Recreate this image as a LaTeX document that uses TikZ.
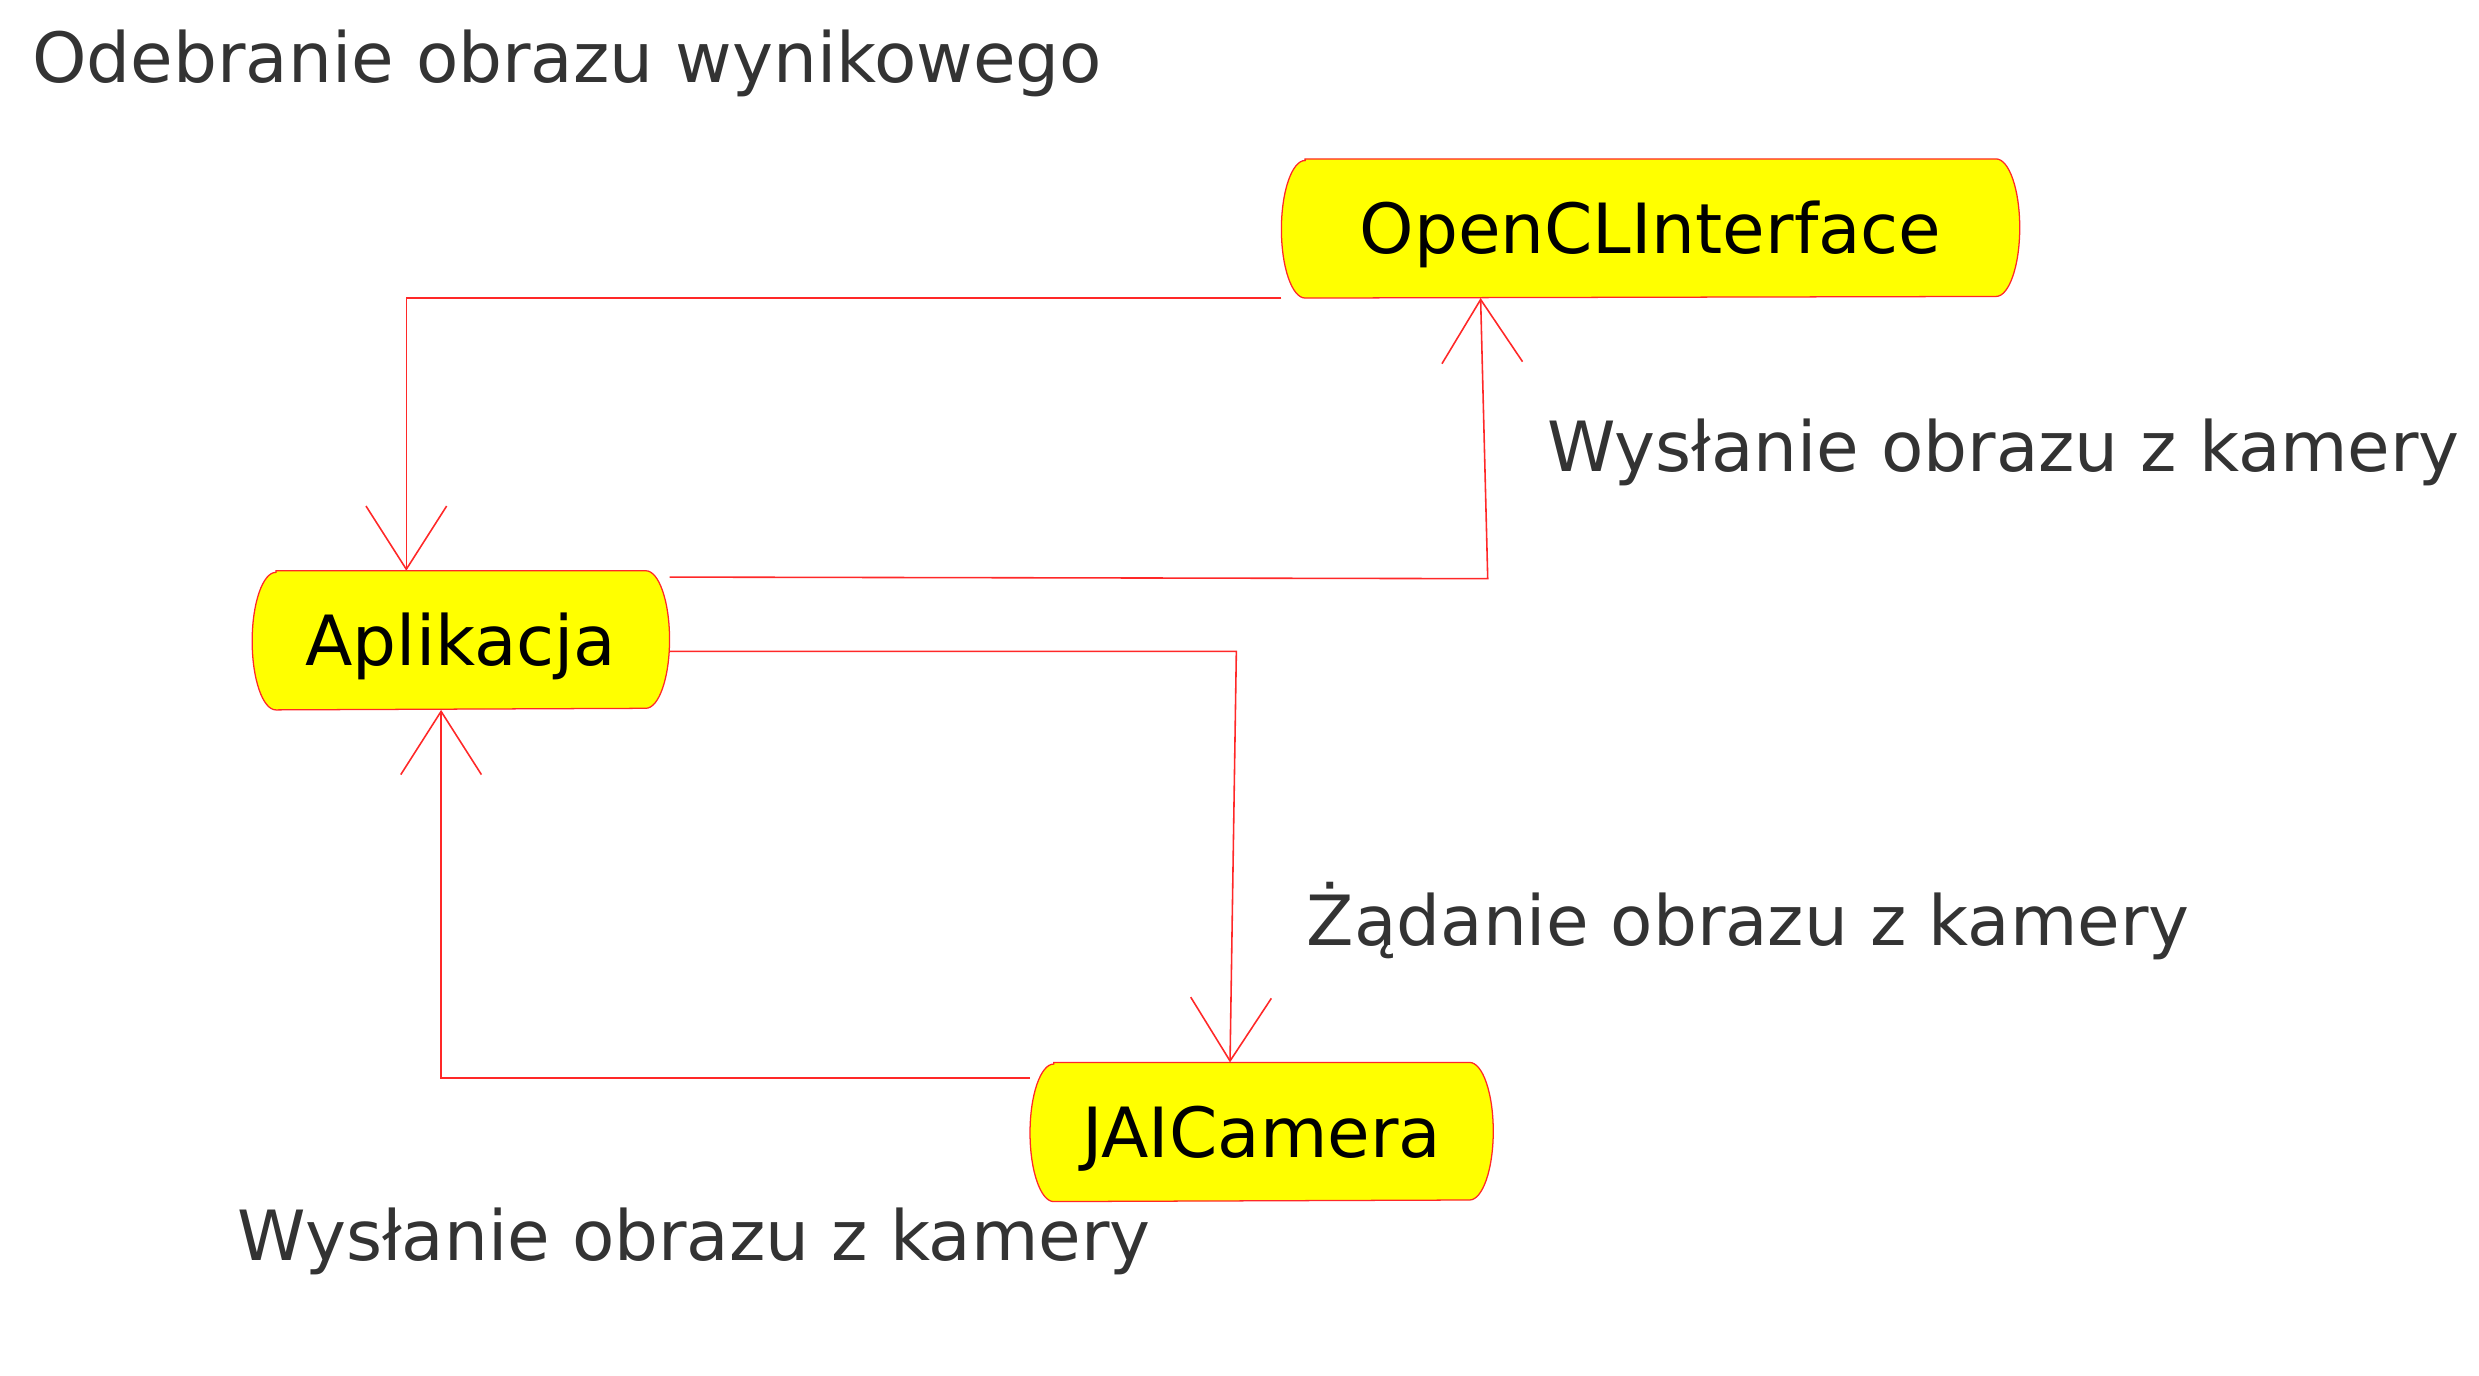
\documentclass[tikz,border=0pt]{standalone}
\usepackage{fontspec}
\setmainfont{DejaVu Sans}
\usetikzlibrary{arrows.meta,calc,backgrounds}

\definecolor{capsulefill}{RGB}{255,255,0}
\definecolor{linkred}{RGB}{255,40,40}
\definecolor{labelgray}{RGB}{51,51,51}

\tikzset{every picture/.style={line width=0.5pt}}
\tikzset{
  capsule/.style={minimum width=#1, minimum height=43.5pt, inner sep=0pt, text height=15.9pt, text depth=0pt, text=black, font=\fontsize{21.9pt}{26pt}\selectfont},
  capsule line/.style={draw=linkred, fill=capsulefill},
  flow/.style={draw=linkred, -{Straight Barb[length=20pt,width=25.5pt]}},
  note/.style={anchor=base west, inner sep=0pt, text=labelgray, font=\fontsize{21.9pt}{26pt}\selectfont},
}

\begin{document}
\begin{tikzpicture}[x=0.5pt,y=0.5pt,yscale=-1,xscale=1]
\useasboundingbox (0,0) rectangle (1568,869.7);

%Shape: Capsule [ocl]
\node[capsule=233pt] (ocl) at (1044,144.5) {OpenCLInterface};
%Shape: Capsule [app]
\node[capsule=131.5pt] (app) at (291.5,405) {Aplikacja};
%Shape: Capsule [jai]
\node[capsule=146pt] (jai) at (798,716) {JAICamera};

\begin{scope}[on background layer]
\foreach \n in {ocl,app,jai}
  \draw[capsule line] ($(\n.north west)+(15,0)$) -- ($(\n.north east)+(-15,0)$) arc[start angle=-90,end angle=90,x radius=15,y radius=43.5] -- ($(\n.south west)+(15,0)$) arc[start angle=90,end angle=270,x radius=15,y radius=43.5] -- cycle;
\end{scope}

%Straight Lines [ocl -> app]
\draw[flow] (ocl.south west) -| ($(app.north)+(-34.5,0)$);
%Straight Lines [app -> ocl]
\coordinate (c1) at (941,366);
\draw[flow] ($(app.north east)+(0,4)$) -- (c1) -- ($(ocl.south west)+(126,0)$);
%Straight Lines [app -> jai]
\coordinate (c2) at (782,412);
\draw[flow] ($(app.east)+(0,7)$) -- (c2) -- ($(jai.north)+(-20,0)$);
%Straight Lines [jai -> app]
\draw[flow] ($(jai.north west)+(0,10)$) -| ($(app.south)+(-12.5,0)$);

% Text Node
\node[note] (title) at (20,52) {Odebranie obrazu wynikowego};
% Text Node
\node[note] (sendocl) at (978,298) {Wysłanie obrazu z kamery};
% Text Node
\node[note] (request) at (826,598) {Żądanie obrazu z kamery};
% Text Node
\node[note] (sendapp) at (150,797) {Wysłanie obrazu z kamery};

\end{tikzpicture}
\end{document}
